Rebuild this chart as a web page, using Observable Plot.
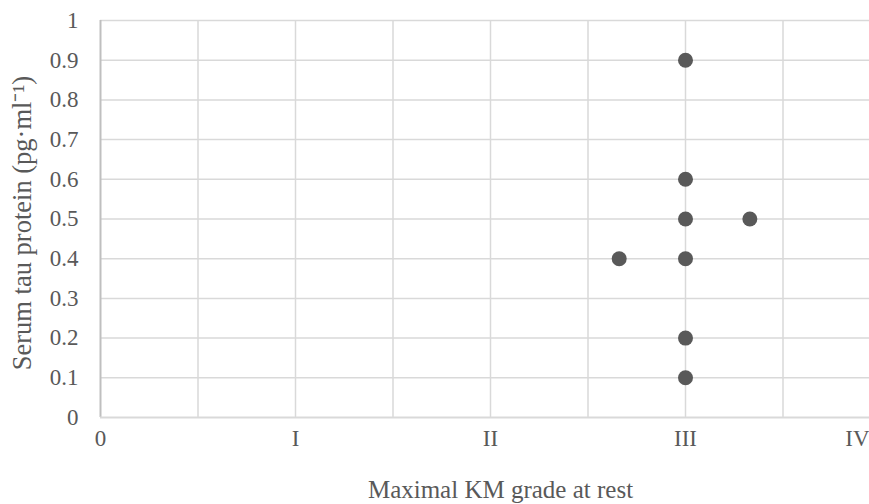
<!DOCTYPE html>
<html>
<head>
<meta charset="utf-8">
<script src="https://cdn.jsdelivr.net/npm/d3@7"></script>
<script src="https://cdn.jsdelivr.net/npm/@observablehq/plot@0.6"></script>
<style>
  html, body { margin: 0; padding: 0; background: #fff; overflow: hidden; }
  #chart svg { display: block; }
</style>
</head>
<body>
<div id="chart"></div>
<script>
// Data
const grade = [3, 3, 3, 3, 3, 3, 2.66, 3.33];
const tau   = [0.9, 0.6, 0.5, 0.4, 0.2, 0.1, 0.4, 0.5];

const xTickValues = [0, 1, 2, 3, 4];
const xTickLabels = ["0", "I", "II", "III", "IV"];
const xGridValues = [0.5, 1, 1.5, 2, 2.5, 3, 3.5, 4];
const yTickValues = [0, 0.1, 0.2, 0.3, 0.4, 0.5, 0.6, 0.7, 0.8, 0.9, 1];
const yTickLabels = ["0", "0.1", "0.2", "0.3", "0.4", "0.5", "0.6", "0.7", "0.8", "0.9", "1"];

const xTitle = "Maximal KM grade at rest";
const yTitle = "Serum tau protein (pg·ml\u207B\u00B9)";

const points = grade.map((g, i) => ({grade: g, tau: tau[i]}));
const roman = new Map(xTickValues.map((v, i) => [v, xTickLabels[i]]));
const yLab = new Map(yTickValues.map((v, i) => [v, yTickLabels[i]]));

const textColor = "#595959";
const font = "'Liberation Serif', 'Times New Roman', serif";

const chart = Plot.plot({
  width: 869,
  height: 504,
  marginLeft: 100,
  marginRight: -11,
  marginTop: 20,
  marginBottom: 87,
  style: {fontFamily: font, background: "#fff", overflow: "hidden"},
  x: {domain: [0, 4]},
  y: {domain: [0, 1]},
  marks: [
    Plot.gridY(yTickValues.slice(1), {stroke: "#d9d9d9", strokeOpacity: 1, strokeWidth: 1.5}),
    Plot.gridX(xGridValues, {stroke: "#d9d9d9", strokeOpacity: 1, strokeWidth: 1.5}),
    Plot.ruleX([0], {stroke: "#bfbfbf", strokeWidth: 2}),
    Plot.ruleY([0], {stroke: "#d9d9d9", strokeWidth: 2}),
    Plot.axisY(yTickValues, {
      tickSize: 0, tickPadding: 22, fontSize: 23, fill: textColor,
      tickFormat: (d) => yLab.get(d), label: null
    }),
    Plot.axisX(xTickValues.slice(0, 4), {
      tickSize: 0, tickPadding: 12, fontSize: 23, fill: textColor,
      tickFormat: (d) => roman.get(d), label: null
    }),
    Plot.axisX(xTickValues.slice(4), {
      tickSize: 0, tickPadding: 12, fontSize: 23, fill: textColor,
      textAnchor: "end", dx: -11,
      tickFormat: (d) => roman.get(d), label: null
    }),
    Plot.text([xTitle], {
      frameAnchor: "bottom", dx: 10, dy: 72, lineAnchor: "middle", textAnchor: "middle",
      fontSize: 25, fill: textColor, text: (d) => d
    }),
    Plot.text([yTitle], {
      frameAnchor: "left", dx: -78, dy: 4, rotate: -90, lineAnchor: "middle", textAnchor: "middle",
      fontSize: 26.5, fill: textColor, text: (d) => d
    }),
    Plot.dot(points, {x: "grade", y: "tau", r: 7.5, fill: "#595959", stroke: "none"})
  ]
});
document.getElementById("chart").append(chart);
</script>
</body>
</html>
